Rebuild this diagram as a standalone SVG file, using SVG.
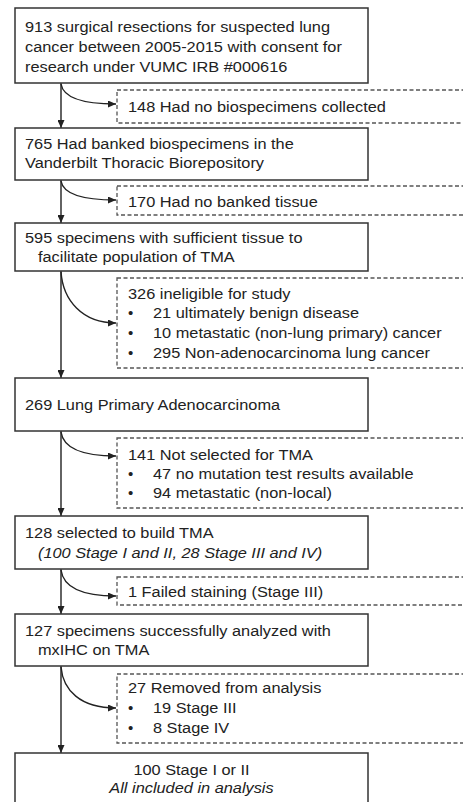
<svg xmlns="http://www.w3.org/2000/svg" width="463" height="802" viewBox="0 0 463 802">
<defs>
<marker id="ah" markerWidth="8" markerHeight="7" refX="8" refY="3.5" orient="auto" markerUnits="userSpaceOnUse">
<path d="M0,0 L8,3.5 L0,7 z" fill="#222"/>
</marker>
<style>
.box{fill:#fff;stroke:#333;stroke-width:1.5}
.dbox{fill:#fff;stroke:#555;stroke-width:1.3;stroke-dasharray:4 2.5}
text{font-family:"Liberation Sans",Arial,sans-serif;font-size:15px;fill:#222}
.it{font-style:italic}
.conn{fill:none;stroke:#222;stroke-width:1.4}
</style>
</defs>
<rect width="463" height="802" fill="#fff"/>
<g id="connectors">
<path class="conn" d="M61,83 L61,128" marker-end="url(#ah)"/>
<path class="conn" d="M61,180 L61,223" marker-end="url(#ah)"/>
<path class="conn" d="M61,271 L61,378" marker-end="url(#ah)"/>
<path class="conn" d="M61,431 L61,516" marker-end="url(#ah)"/>
<path class="conn" d="M61,569 L61,614" marker-end="url(#ah)"/>
<path class="conn" d="M61,666 L61,753" marker-end="url(#ah)"/>
<path class="conn" d="M61,84 C63,96 78,104 116,104" marker-end="url(#ah)"/>
<path class="conn" d="M61,181 C63,193 78,200 116,200" marker-end="url(#ah)"/>
<path class="conn" d="M61,272 C63,300 82,323 116,323" marker-end="url(#ah)"/>
<path class="conn" d="M61,432 C63,446 78,456 116,456" marker-end="url(#ah)"/>
<path class="conn" d="M61,570 C63,585 78,596 116,596" marker-end="url(#ah)"/>
<path class="conn" d="M61,667 C63,690 80,708 116,708" marker-end="url(#ah)"/>
</g>
<g id="n1">
<rect class="box" x="15" y="8" width="353" height="75"/>
<text transform="translate(25,32) scale(1.09,1)">913 surgical resections for suspected lung</text>
<text transform="translate(25,52) scale(1.09,1)">cancer between 2005-2015 with consent for</text>
<text transform="translate(25,72) scale(1.09,1)">research under VUMC IRB #000616</text>
</g>
<g id="e1">
<rect class="dbox" x="117" y="90" width="360" height="33"/>
<text transform="translate(128,112) scale(1.09,1)">148 Had no biospecimens collected</text>
</g>
<g id="n2">
<rect class="box" x="15" y="128" width="353" height="52"/>
<text transform="translate(25,149) scale(1.09,1)">765 Had banked biospecimens in the</text>
<text transform="translate(25,168) scale(1.09,1)">Vanderbilt Thoracic Biorepository</text>
</g>
<g id="e2">
<rect class="dbox" x="117" y="186" width="360" height="29"/>
<text transform="translate(128,207) scale(1.09,1)">170 Had no banked tissue</text>
</g>
<g id="n3">
<rect class="box" x="15" y="223" width="353" height="48"/>
<text transform="translate(25,243) scale(1.09,1)">595 specimens with sufficient tissue to</text>
<text transform="translate(38,262) scale(1.09,1)">facilitate population of TMA</text>
</g>
<g id="e3">
<rect class="dbox" x="117" y="278" width="360" height="90"/>
<text transform="translate(128,299) scale(1.09,1)">326 ineligible for study</text>
<text x="128" y="318">•</text><text transform="translate(153,318) scale(1.09,1)">21 ultimately benign disease</text>
<text x="128" y="338">•</text><text transform="translate(153,338) scale(1.09,1)">10 metastatic (non-lung primary) cancer</text>
<text x="128" y="358">•</text><text transform="translate(153,358) scale(1.09,1)">295 Non-adenocarcinoma lung cancer</text>
</g>
<g id="n4">
<rect class="box" x="15" y="378" width="353" height="53"/>
<text transform="translate(25,410) scale(1.09,1)">269 Lung Primary Adenocarcinoma</text>
</g>
<g id="e4">
<rect class="dbox" x="117" y="438" width="360" height="70"/>
<text transform="translate(128,460) scale(1.09,1)">141 Not selected for TMA</text>
<text x="128" y="479">•</text><text transform="translate(153,479) scale(1.09,1)">47 no mutation test results available</text>
<text x="128" y="498">•</text><text transform="translate(153,498) scale(1.09,1)">94 metastatic (non-local)</text>
</g>
<g id="n5">
<rect class="box" x="15" y="516" width="353" height="53"/>
<text transform="translate(25,538) scale(1.09,1)">128 selected to build TMA</text>
<text class="it" transform="translate(38,558) scale(1.09,1)">(100 Stage I and II, 28 Stage III and IV)</text>
</g>
<g id="e5">
<rect class="dbox" x="117" y="577" width="360" height="28"/>
<text transform="translate(128,597) scale(1.09,1)">1 Failed staining (Stage III)</text>
</g>
<g id="n6">
<rect class="box" x="15" y="614" width="353" height="52"/>
<text transform="translate(25,636) scale(1.09,1)">127 specimens successfully analyzed with</text>
<text transform="translate(38,655) scale(1.09,1)">mxIHC on TMA</text>
</g>
<g id="e6">
<rect class="dbox" x="117" y="674" width="360" height="69"/>
<text transform="translate(128,693) scale(1.09,1)">27 Removed from analysis</text>
<text x="128" y="713">•</text><text transform="translate(153,713) scale(1.09,1)">19 Stage III</text>
<text x="128" y="733">•</text><text transform="translate(153,733) scale(1.09,1)">8 Stage IV</text>
</g>
<g id="n7">
<rect class="box" x="15" y="753" width="353" height="60"/>
<text transform="translate(191.5,775) scale(1.09,1)" text-anchor="middle">100 Stage I or II</text>
<text class="it" transform="translate(191.5,793) scale(1.09,1)" text-anchor="middle">All included in analysis</text>
</g>
</svg>
